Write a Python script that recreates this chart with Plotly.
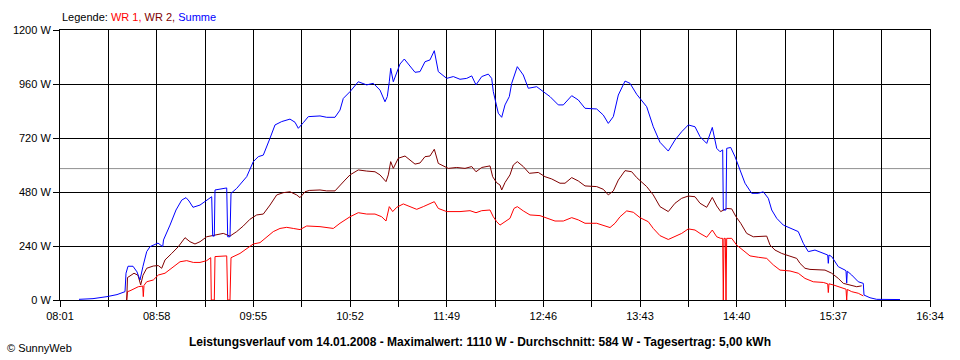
import plotly.graph_objects as go

# ---------------- data ----------------
tick_labels = ["08:01", "08:58", "09:55", "10:52", "11:49", "12:46", "13:43", "14:40", "15:37", "16:34"]
y_ticks = [0, 240, 480, 720, 960, 1200]
y_tick_labels = ["0 W", "240 W", "480 W", "720 W", "960 W", "1200 W"]
average_w = 584

sum_time = ["08:12:12", "08:20:28", "08:28:43", "08:34:37", "08:39:20", "08:39:55", "08:41:06", "08:44:03",
            "08:46:24", "08:48:10", "08:49:56", "08:52:07", "08:54:04", "08:58:47", "09:01:34", "09:02:02",
            "09:05:52", "09:09:24", "09:12:46", "09:15:18", "09:17:04", "09:19:25", "09:23:33", "09:27:05",
            "09:30:27", "09:31:02", "09:31:59", "09:32:24", "09:35:21", "09:39:18", "09:39:53", "09:41:14",
            "09:41:50", "09:45:11", "09:51:05", "09:54:59", "09:57:56", "10:00:53", "10:04:50", "10:07:47",
            "10:11:44", "10:16:37", "10:19:34", "10:21:31", "10:24:28", "10:27:25", "10:34:19", "10:38:16",
            "10:43:09", "10:46:06", "10:48:03", "10:52:00", "10:56:53", "11:01:51", "11:05:44", "11:09:41",
            "11:12:38", "11:14:00", "11:15:10", "11:16:00", "11:17:32", "11:19:32", "11:21:29", "11:24:01",
            "11:27:23", "11:30:20", "11:33:17", "11:36:13", "11:39:10", "11:41:43", "11:44:04", "11:46:04",
            "11:49:01", "11:52:55", "11:56:52", "12:00:49", "12:03:46", "12:06:18", "12:09:40", "12:13:33",
            "12:15:33", "12:16:30", "12:18:05", "12:19:27", "12:21:27", "12:23:24", "12:25:56", "12:27:21",
            "12:30:39", "12:34:11", "12:37:08", "12:42:05", "12:45:59", "12:49:56", "12:54:50", "12:57:47",
            "13:02:44", "13:06:37", "13:10:34", "13:17:28", "13:21:22", "13:24:19", "13:27:16", "13:30:13",
            "13:34:10", "13:37:06", "13:41:04", "13:46:57", "13:50:50", "13:54:47", "13:59:41", "14:03:38",
            "14:07:35", "14:11:29", "14:15:26", "14:18:23", "14:22:20", "14:25:38", "14:28:14", "14:30:10",
            "14:31:46", "14:32:07", "14:33:43", "14:34:07", "14:36:29", "14:39:01", "14:41:58", "14:44:55",
            "14:48:52", "14:52:45", "14:55:42", "14:58:39", "15:00:40", "15:03:37", "15:07:30", "15:12:27",
            "15:16:20", "15:19:17", "15:22:14", "15:26:11", "15:31:05", "15:33:41", "15:34:02", "15:34:26",
            "15:36:02", "15:39:56", "15:43:53", "15:44:28", "15:44:53", "15:45:14", "15:47:50", "15:51:43",
            "15:54:40", "15:55:05", "15:58:37", "16:02:34", "16:16:19"]
sum_w = [3, 6, 15, 24, 37, 119, 150, 150,
         125, 89, 150, 215, 237, 253, 237, 267,
         333, 400, 444, 455, 440, 412, 422, 440,
         459, 284, 284, 489, 493, 498, 281, 281,
         474, 496, 548, 615, 637, 644, 719, 778,
         793, 804, 790, 763, 788, 815, 818, 812,
         812, 844, 896, 926, 970, 956, 963, 933,
         881, 904, 970, 1030, 970, 1015, 1049, 1071,
         1037, 1012, 1015, 1059, 1067, 1108, 1015, 1004,
         985, 993, 981, 985, 996, 956, 993, 1004,
         985, 926, 874, 830, 812, 867, 904, 963,
         1037, 1000, 941, 948, 926, 904, 867, 867,
         908, 889, 852, 849, 822, 785, 815, 911,
         973, 963, 914, 859, 770, 701, 662, 711,
         748, 778, 770, 726, 696, 767, 674, 659,
         667, 400, 400, 674, 678, 637, 578, 519,
         474, 474, 481, 452, 400, 363, 333, 318,
         304, 252, 215, 222, 207, 200, 163, 200,
         193, 148, 133, 130, 75, 128, 111, 81,
         74, 22, 10, 3, 2]

wr2_time = ["08:40:20", "08:40:48", "08:41:41", "08:44:38", "08:46:59", "08:48:35", "08:49:56", "08:52:07",
            "08:56:01", "08:58:58", "09:00:58", "09:02:55", "09:06:52", "09:10:46", "09:14:43", "09:17:39",
            "09:20:36", "09:23:33", "09:27:30", "09:32:24", "09:37:17", "09:41:14", "09:45:11", "09:49:05",
            "09:53:02", "09:56:59", "10:00:53", "10:04:50", "10:08:47", "10:12:40", "10:16:37", "10:20:34",
            "10:22:31", "10:25:28", "10:28:00", "10:34:19", "10:38:16", "10:43:09", "10:46:06", "10:49:03",
            "10:52:00", "10:56:53", "11:01:51", "11:06:44", "11:09:41", "11:13:14", "11:14:35", "11:16:00",
            "11:17:32", "11:20:29", "11:24:26", "11:27:23", "11:30:20", "11:33:17", "11:36:13", "11:39:10",
            "11:41:43", "11:44:04", "11:47:01", "11:49:58", "11:54:55", "11:59:49", "12:03:46", "12:06:18",
            "12:09:40", "12:14:33", "12:16:08", "12:18:30", "12:20:27", "12:21:27", "12:23:24", "12:26:20",
            "12:28:17", "12:30:39", "12:34:11", "12:37:44", "12:43:02", "12:46:59", "12:50:56", "12:55:50",
            "12:58:47", "13:02:44", "13:06:37", "13:10:34", "13:17:28", "13:21:22", "13:24:19", "13:27:16",
            "13:30:13", "13:34:10", "13:38:06", "13:41:04", "13:46:57", "13:50:50", "13:54:47", "13:59:41",
            "14:03:38", "14:07:35", "14:11:29", "14:15:26", "14:18:23", "14:22:20", "14:25:38", "14:28:14",
            "14:30:35", "14:34:07", "14:37:04", "14:39:37", "14:42:23", "14:45:55", "14:49:49", "14:53:46",
            "14:57:43", "14:59:40", "15:02:36", "15:06:33", "15:11:27", "15:15:24", "15:17:20", "15:20:17",
            "15:23:14", "15:27:11", "15:32:05", "15:36:02", "15:39:56", "15:42:53", "15:46:50", "15:50:47",
            "15:53:44"]
wr2_w = [0, 100, 104, 119, 110, 67, 110, 141,
         151, 153, 141, 178, 207, 237, 277, 259,
         249, 259, 281, 289, 296, 284, 304, 329,
         359, 378, 382, 422, 467, 477, 481, 467,
         455, 481, 487, 489, 485, 485, 507, 533,
         556, 578, 573, 570, 556, 526, 556, 615,
         585, 630, 640, 622, 604, 609, 637, 640,
         670, 607, 596, 585, 589, 585, 593, 570,
         589, 596, 548, 521, 511, 489, 522, 556,
         600, 615, 593, 563, 567, 548, 538, 519,
         519, 544, 529, 507, 504, 492, 467, 485,
         533, 575, 570, 544, 504, 467, 415, 393,
         430, 452, 462, 459, 430, 412, 456, 418,
         393, 407, 405, 370, 341, 296, 281, 284,
         284, 244, 222, 207, 193, 185, 163, 141,
         136, 136, 133, 119, 96, 74, 67, 59,
         63]

wr1_time = ["08:40:20", "08:40:48", "08:42:17", "08:47:10", "08:49:46", "08:50:07", "08:50:32", "08:52:07",
            "08:56:01", "08:58:58", "09:02:55", "09:06:52", "09:11:46", "09:15:43", "09:19:36", "09:23:33",
            "09:27:30", "09:29:52", "09:30:13", "09:31:59", "09:32:24", "09:39:18", "09:39:53", "09:41:14",
            "09:41:50", "09:47:08", "09:51:05", "09:54:59", "09:58:56", "10:02:53", "10:06:46", "10:10:43",
            "10:14:40", "10:18:34", "10:22:31", "10:26:28", "10:34:19", "10:42:09", "10:46:06", "10:52:00",
            "10:56:53", "11:01:51", "11:06:44", "11:10:41", "11:13:14", "11:15:10", "11:17:11", "11:19:32",
            "11:23:26", "11:27:23", "11:31:20", "11:35:13", "11:39:10", "11:41:43", "11:44:04", "11:49:01",
            "11:56:52", "12:02:46", "12:06:18", "12:09:40", "12:14:33", "12:16:30", "12:18:30", "12:20:27",
            "12:23:24", "12:26:20", "12:28:42", "12:30:39", "12:34:11", "12:38:08", "12:44:02", "12:47:59",
            "12:52:53", "12:57:47", "13:02:44", "13:06:37", "13:10:34", "13:17:28", "13:21:22", "13:25:19",
            "13:28:16", "13:31:13", "13:35:09", "13:39:03", "13:43:00", "13:47:53", "13:50:50", "13:54:47",
            "13:59:41", "14:03:38", "14:07:35", "14:11:29", "14:15:26", "14:18:23", "14:22:20", "14:25:38",
            "14:28:14", "14:30:35", "14:31:46", "14:32:07", "14:32:32", "14:33:18", "14:33:43", "14:34:07",
            "14:37:04", "14:40:01", "14:43:55", "14:47:52", "14:52:45", "14:57:43", "15:01:36", "15:05:33",
            "15:11:27", "15:16:20", "15:20:17", "15:25:11", "15:31:05", "15:33:41", "15:34:02", "15:34:26",
            "15:36:59", "15:42:53", "15:44:28", "15:44:53", "15:45:14", "15:47:50", "15:51:43", "15:54:40"]
wr1_w = [0, 37, 41, 59, 62, 15, 65, 81,
         89, 111, 119, 141, 170, 175, 167, 167,
         175, 188, 0, 0, 193, 196, 0, 0,
         188, 207, 230, 249, 255, 279, 304, 318,
         323, 318, 313, 329, 326, 318, 341, 370,
         388, 382, 382, 370, 351, 415, 393, 412,
         427, 415, 403, 415, 427, 437, 407, 393,
         393, 397, 388, 397, 400, 370, 348, 333,
         348, 363, 407, 415, 396, 378, 375, 363,
         351, 351, 366, 356, 341, 341, 333, 322,
         341, 370, 396, 390, 366, 348, 318, 286,
         269, 281, 296, 316, 311, 296, 279, 311,
         281, 274, 274, 0, 274, 274, 0, 274,
         274, 244, 222, 196, 190, 185, 156, 133,
         129, 119, 96, 81, 78, 72, 33, 72,
         67, 52, 48, 0, 47, 37, 30, 18]


def to_min(s):
    h, m, sec = (int(p) for p in s.split(":"))
    return h * 60 + m + sec / 60.0


def label_min(s):
    h, m = (int(p) for p in s.split(":"))
    return h * 60 + m


# ---------------- figure ----------------
t_start = label_min(tick_labels[0])
t_end = label_min(tick_labels[-1])
step = (label_min(tick_labels[1]) - t_start) / 2.0
grid_vals = [t_start + i * step for i in range(2 * (len(tick_labels) - 1) + 1)]
grid_text = [tick_labels[i // 2] if i % 2 == 0 else "" for i in range(len(grid_vals))]

fig = go.Figure()
fig.add_trace(go.Scatter(x=[to_min(t) for t in wr1_time], y=wr1_w, mode="lines",
                         line=dict(color="#ff0000", width=1), name="WR 1"))
fig.add_trace(go.Scatter(x=[to_min(t) for t in wr2_time], y=wr2_w, mode="lines",
                         line=dict(color="#800000", width=1), name="WR 2"))
fig.add_trace(go.Scatter(x=[to_min(t) for t in sum_time], y=sum_w, mode="lines",
                         line=dict(color="#0000ff", width=1), name="Summe"))

fig.add_shape(type="line", xref="paper", yref="y", x0=0, x1=1, y0=average_w, y1=average_w,
              line=dict(color="#909090", width=1), layer="below")

font_family = "Liberation Sans, Arial, sans-serif"

fig.update_layout(
    width=960, height=360, autosize=False,
    margin=dict(l=60, r=30, t=30, b=60, pad=0),
    paper_bgcolor="white", plot_bgcolor="white",
    showlegend=False,
    font=dict(family=font_family, size=11, color="black"),
    xaxis=dict(range=[t_start, t_end], tickmode="array", tickvals=grid_vals, ticktext=grid_text,
               showgrid=True, gridcolor="black", gridwidth=1, zeroline=False,
               showline=True, linecolor="black", linewidth=1, mirror=True,
               ticks="outside", ticklen=6, tickcolor="black", tickwidth=1,
               tickfont=dict(family=font_family, size=11, color="black")),
    yaxis=dict(range=[0, 1200], tickmode="array", tickvals=y_ticks, ticktext=y_tick_labels,
               showgrid=True, gridcolor="black", gridwidth=1, zeroline=False,
               showline=True, linecolor="black", linewidth=1, mirror=True,
               ticks="outside", ticklen=6, tickcolor="black", tickwidth=1,
               tickfont=dict(family=font_family, size=11, color="black")),
)

fig.add_annotation(xref="paper", yref="paper", x=0, y=1, yshift=13, xanchor="left", yanchor="middle",
                   showarrow=False, font=dict(family=font_family, size=11, color="black"),
                   text='Legende: <span style="color:#ff0000">WR 1,</span> '
                        '<span style="color:#800000">WR 2,</span> '
                        '<span style="color:#0000ff">Summe</span>')
fig.add_annotation(xref="paper", yref="paper", x=(480 - 60) / 870, y=0, yshift=-42,
                   xanchor="center", yanchor="middle", showarrow=False,
                   font=dict(family=font_family, size=12, color="black"),
                   text="<b>Leistungsverlauf vom 14.01.2008 - Maximalwert: 1110 W - "
                        "Durchschnitt: 584 W - Tagesertrag: 5,00 kWh</b>")
fig.add_annotation(xref="paper", yref="paper", x=-55 / 870, y=0, yshift=-48,
                   xanchor="left", yanchor="middle", showarrow=False,
                   font=dict(family=font_family, size=11, color="black"),
                   text="© SunnyWeb")

fig.write_html("out.html", config={"displayModeBar": False},
               post_script="document.body.style.margin='0';")
